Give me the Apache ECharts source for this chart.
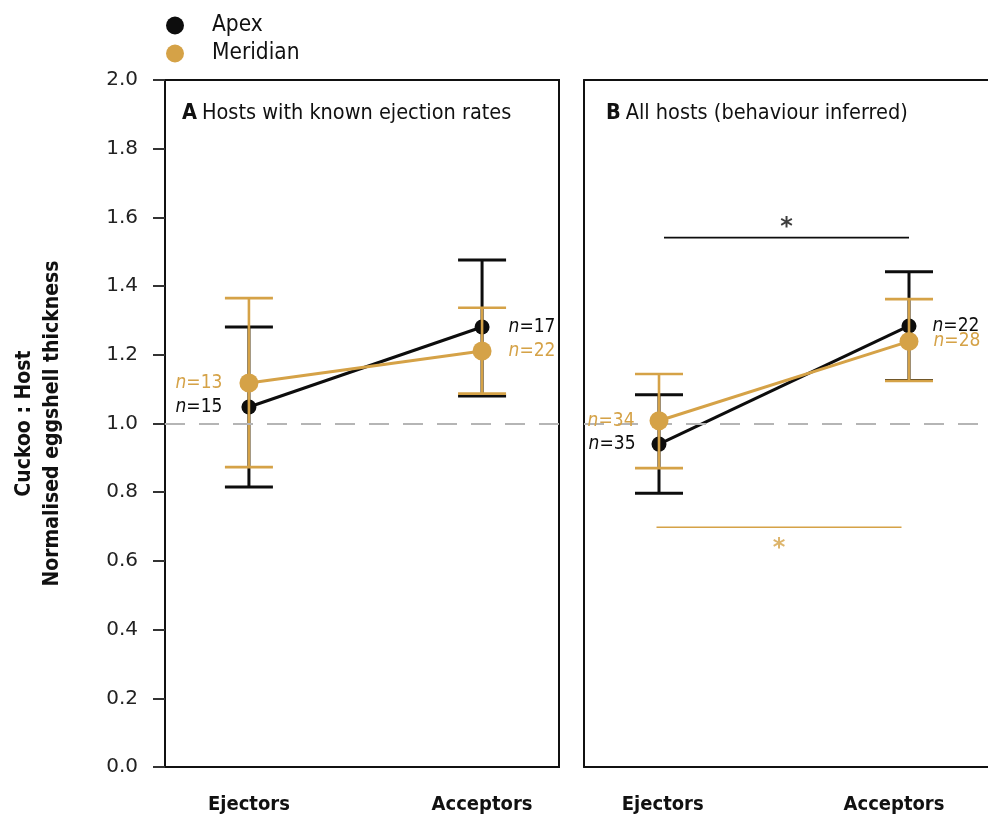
<!DOCTYPE html>
<html><head><meta charset="utf-8">
<script src="https://cdn.jsdelivr.net/npm/echarts@6/dist/echarts.min.js"></script>
<style>html,body{margin:0;padding:0;background:#fff}#c{width:988px;height:819px}</style>
</head><body><div id="c"></div>
<script>
// ---- data ----
const categories = ['Ejectors', 'Acceptors'];
const groupNames = ['Apex', 'Meridian'];
// Panel A: hosts with known ejection rates
const apexA_mean = [1.048, 1.281];
const apexA_low  = [0.815, 1.080];
const apexA_high = [1.281, 1.476];
const apexA_n    = [15, 17];
const meridA_mean = [1.118, 1.211];
const meridA_low  = [0.873, 1.087];
const meridA_high = [1.365, 1.337];
const meridA_n    = [13, 22];
// Panel B: all hosts (behaviour inferred)
const apexB_mean = [0.940, 1.284];
const apexB_low  = [0.797, 1.125];
const apexB_high = [1.084, 1.442];
const apexB_n    = [35, 22];
const meridB_mean = [1.008, 1.239];
const meridB_low  = [0.870, 1.124];
const meridB_high = [1.144, 1.362];
const meridB_n    = [34, 28];
// significance bars (x from, x to, y)
const sigApexB  = [0.02, 1.0, 1.541];
const sigMeridB = [-0.01, 0.97, 0.698];
const refLine = 1.0;
const panelTitles = [['A', 'Hosts with known ejection rates'], ['B', 'All hosts (behaviour inferred)']];

// ---- styles ----
const BLACK = '#0d0d0d', GOLD = '#D5A247';
const NARROW = '"DejaVu Sans Condensed","Liberation Sans Narrow",sans-serif';
const FRAME = { show: true, onZero: false, lineStyle: { color: '#111', width: 2 } };

function errBar(ax, low, high, color, lw, capHalf, z) {
  return {
    type: 'custom', xAxisIndex: ax, yAxisIndex: ax, z: z, silent: true,
    data: low.map((l, i) => [i, l, high[i]]),
    renderItem: (params, api) => {
      const x = api.value(0);
      const lo = api.coord([x, api.value(1)]);
      const hi = api.coord([x, api.value(2)]);
      const st = { stroke: color, lineWidth: lw };
      return { type: 'group', children: [
        { type: 'line', shape: { x1: lo[0], y1: lo[1], x2: hi[0], y2: hi[1] }, style: st },
        { type: 'line', shape: { x1: lo[0] - capHalf, y1: lo[1], x2: lo[0] + capHalf, y2: lo[1] }, style: st },
        { type: 'line', shape: { x1: hi[0] - capHalf, y1: hi[1], x2: hi[0] + capHalf, y2: hi[1] }, style: st }
      ]};
    }
  };
}

function meanLine(ax, name, mean, ns, color, size, z, dist) {
  return {
    type: 'line', name: name, xAxisIndex: ax, yAxisIndex: ax, z: z,
    data: mean.map((m, i) => ({
      value: [i, m],
      label: { show: true, position: i === 0 ? 'left' : 'right', distance: dist,
        formatter: '{i|n}{t|=' + ns[i] + '}',
        rich: {
          i: { fontStyle: 'italic', fontFamily: NARROW, fontSize: 19, color: color },
          t: { fontFamily: NARROW, fontSize: 19, color: color }
        } }
    })),
    symbol: 'circle', symbolSize: size,
    itemStyle: { color: color },
    lineStyle: { color: color, width: 3 },
    emphasis: { disabled: true }, animation: false
  };
}

function sigBar(ax, sig, color, pos, z) {
  const mid = (sig[0] + sig[1]) / 2;
  return [{
    type: 'line', xAxisIndex: ax, yAxisIndex: ax, z: z, symbol: 'none',
    data: [[sig[0], sig[2]], [sig[1], sig[2]]],
    lineStyle: { color: color, width: 1.6 }, animation: false
  }, {
    type: 'scatter', xAxisIndex: ax, yAxisIndex: ax, z: z, symbolSize: 1,
    itemStyle: { color: 'rgba(0,0,0,0)' },
    data: [[mid, sig[2]]],
    label: { show: true, position: pos, distance: pos === 'top' ? -3 : 9, formatter: '*',
      fontFamily: '"DejaVu Sans",sans-serif', fontWeight: 'bold', fontSize: 24, color: color }
  }];
}

function refMark() {
  return { silent: true, symbol: 'none', label: { show: false },
    lineStyle: { color: '#b5b5b5', type: [20, 14], width: 2 },
    data: [{ yAxis: refLine }] };
}

const xLabelStyle = () => ({
  show: true, customValues: [0, 1], margin: 28,
  formatter: v => categories[Math.round(v)],
  fontFamily: NARROW, fontWeight: 'bold', fontSize: 20, color: '#111'
});

const option = {
  animation: false,
  backgroundColor: '#fff',
  legend: {
    orient: 'vertical', left: 161, top: 9, itemGap: 5,
    itemWidth: 18, itemHeight: 18,
    data: [
      { name: 'Apex', icon: 'circle', itemStyle: { color: BLACK } },
      { name: 'Meridian', icon: 'circle', itemStyle: { color: GOLD } }
    ],
    textStyle: { fontFamily: NARROW, fontSize: 22.5, color: '#111', padding: [0, 0, 0, 23] },
    selectedMode: false
  },
  title: panelTitles.map((t, i) => ({
    text: '{a|' + t[0] + '} {b|' + t[1] + '}',
    left: i === 0 ? 177 : 601, top: 97,
    textStyle: { fontWeight: 'normal', rich: {
      a: { fontFamily: NARROW, fontWeight: 'bold', fontSize: 21.5, color: '#111' },
      b: { fontFamily: NARROW, fontWeight: 'normal', fontSize: 21.5, color: '#111' }
    } }
  })),
  grid: [
    { left: 165, top: 80, width: 394, height: 687, show: true, borderColor: '#111', borderWidth: 2, backgroundColor: 'transparent' },
    { left: 584, top: 80, right: 0, height: 687, show: false }
  ],
  xAxis: [
    { type: 'value', gridIndex: 0, min: -0.36, max: 1.33,
      axisLine: { show: false, onZero: false }, axisTick: { show: false }, splitLine: { show: false },
      axisLabel: xLabelStyle() },
    { type: 'value', gridIndex: 1, min: -0.30, max: 1.316,
      axisLine: FRAME, axisTick: { show: false }, splitLine: { show: false },
      axisLabel: Object.assign(xLabelStyle(), { customValues: [0.015, 0.94] }) },
    { type: 'value', gridIndex: 1, position: 'top', min: -0.30, max: 1.316,
      axisLine: FRAME, axisTick: { show: false }, splitLine: { show: false }, axisLabel: { show: false } }
  ],
  yAxis: [
    { type: 'value', gridIndex: 0, min: 0, max: 2, interval: 0.2,
      name: 'Cuckoo : Host\nNormalised eggshell thickness', nameLocation: 'middle', nameGap: 98,
      nameTextStyle: { fontFamily: NARROW, fontWeight: 'bold', fontSize: 21, lineHeight: 28, color: '#111' },
      axisLine: { show: false, onZero: false }, splitLine: { show: false },
      axisTick: { show: true, length: 12, lineStyle: { color: '#333', width: 2 } },
      axisLabel: { margin: 27, fontFamily: '"DejaVu Sans",sans-serif', fontSize: 20, color: '#222',
        formatter: v => v.toFixed(1) } },
    { type: 'value', gridIndex: 1, min: 0, max: 2, interval: 0.2,
      axisLine: FRAME, splitLine: { show: false }, axisTick: { show: false }, axisLabel: { show: false } }
  ],
  series: [
    { type: 'line', xAxisIndex: 0, yAxisIndex: 0, data: [], z: 1, markLine: refMark() },
    { type: 'line', xAxisIndex: 1, yAxisIndex: 1, data: [], z: 1, markLine: refMark() },
    errBar(0, apexA_low, apexA_high, BLACK, 3, 24, 2),
    meanLine(0, groupNames[0], apexA_mean, apexA_n, BLACK, 15, 3, 19),
    errBar(0, meridA_low, meridA_high, GOLD, 2.6, 24, 4),
    meanLine(0, groupNames[1], meridA_mean, meridA_n, GOLD, 19, 5, 17),
    errBar(1, apexB_low, apexB_high, BLACK, 3, 24, 2),
    meanLine(1, groupNames[0], apexB_mean, apexB_n, BLACK, 15, 3, 16),
    errBar(1, meridB_low, meridB_high, GOLD, 2.6, 24, 4),
    meanLine(1, groupNames[1], meridB_mean, meridB_n, GOLD, 19, 5, 15),
    ...sigBar(1, sigApexB, BLACK, 'top', 6),
    ...sigBar(1, sigMeridB, GOLD, 'bottom', 6)
  ]
};

const chart = echarts.init(document.getElementById('c'), null, { renderer: 'canvas' });
chart.setOption(option);
</script>
</body></html>
